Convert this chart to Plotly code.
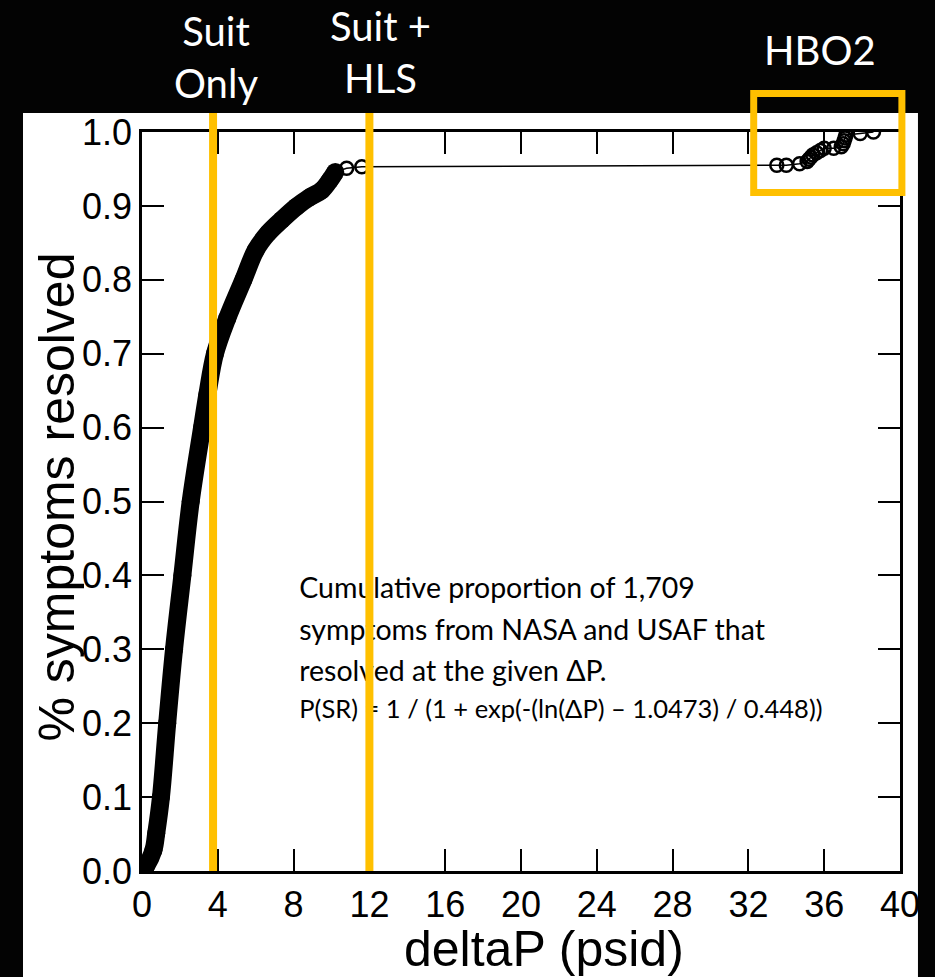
import plotly.graph_objects as go

# ---- data ----
# dense part of the cumulative curve (1,709 overlapping points -> drawn as a thick band)
dp_dense = [0.0, 0.2, 0.6, 0.75, 1.0, 1.33, 1.69, 2.13, 2.57, 3.17, 3.45, 3.85, 4.5,
            5.35, 6.0, 6.65, 7.37, 8.16, 8.87, 9.48, 9.92, 10.2]
p_dense = [0.0, 0.006, 0.028, 0.051, 0.10, 0.20, 0.30, 0.40, 0.50, 0.60, 0.645, 0.70,
           0.748, 0.80, 0.840, 0.863, 0.881, 0.899, 0.912, 0.921, 0.935, 0.946]

# sparse points (open circles joined by a thin line)
dp_tail = [10.2, 10.8, 11.6, 33.5, 34.0, 34.7, 35.1, 35.2, 35.3, 35.4, 35.6,
           35.8, 36.0, 36.5, 36.9, 37.0, 37.05, 37.1, 37.15, 37.9, 38.6]
p_tail = [0.946, 0.951, 0.953, 0.955, 0.955, 0.957, 0.960, 0.963, 0.966, 0.969,
          0.972, 0.975, 0.978, 0.978, 0.980, 0.984, 0.988, 0.992, 0.996, 0.998, 1.0]

# reference pressures (vertical lines) and HBO2 box
suit_only = 3.75
suit_hls = 12.0
hbo2_box_x = [32.28, 40.1]
hbo2_box_y = [0.918, 1.052]

x_ticks = [0, 4, 8, 12, 16, 20, 24, 28, 32, 36, 40]
y_ticks = [0.0, 0.1, 0.2, 0.3, 0.4, 0.5, 0.6, 0.7, 0.8, 0.9, 1.0]
X_MAX = 40.0

note_lines = ["Cumulative proportion of 1,709",
              "symptoms from NASA and USAF that",
              "resolved at the given \u0394P.",
              "P(SR) = 1 / (1 + exp(-(ln(\u0394P) \u2013 1.0473) / 0.448))"]
note_x = [8.3, 8.3, 8.3, 8.3]
note_y = [0.379, 0.3225, 0.267, 0.2156]
note_size = [28.5, 28.5, 28.5, 25.5]

GOLD = "#FFC000"
AX_FONT = "Liberation Sans, Arial, sans-serif"
TXT_FONT = "Lato, Open Sans, sans-serif"

fig = go.Figure()

# thin connecting line + open circles
fig.add_trace(go.Scatter(
    x=dp_tail, y=p_tail, mode="lines+markers",
    line=dict(color="black", width=1.5),
    marker=dict(symbol="circle-open", size=13, color="black", line=dict(width=2.5)),
    hoverinfo="skip", showlegend=False))

# dense band
fig.add_trace(go.Scatter(
    x=dp_dense, y=p_dense, mode="lines+markers",
    line=dict(color="black", width=18, shape="spline", smoothing=1.0),
    marker=dict(symbol="circle", size=18, color="black"),
    hoverinfo="skip", showlegend=False))

# explanatory text (as a text trace so the gold lines can sit on top of it)
fig.add_trace(go.Scatter(
    x=note_x, y=note_y, mode="text", text=note_lines,
    textposition="middle right",
    textfont=dict(family=TXT_FONT, size=note_size, color="black"),
    hoverinfo="skip", showlegend=False))

shapes = []
# white panel behind the chart
shapes.append(dict(type="rect", xref="paper", yref="paper",
                   x0=-0.157, x1=1.0237, y0=-0.1434, y1=1.0257,
                   fillcolor="white", line=dict(width=0), layer="below"))
# gold vertical lines
for v in (suit_only, suit_hls):
    shapes.append(dict(type="line", xref="paper", yref="paper",
                       x0=v / X_MAX, x1=v / X_MAX, y0=0, y1=1.0257,
                       line=dict(color=GOLD, width=8), layer="above"))
# HBO2 box
shapes.append(dict(type="rect", xref="paper", yref="paper",
                   x0=hbo2_box_x[0] / X_MAX, x1=hbo2_box_x[1] / X_MAX,
                   y0=hbo2_box_y[0], y1=hbo2_box_y[1],
                   line=dict(color=GOLD, width=7), fillcolor="rgba(0,0,0,0)",
                   layer="above"))

annotations = [
    dict(text="Suit<br>Only", x=0.0976, y=1.1015, xref="paper", yref="paper",
         showarrow=False, xanchor="center", yanchor="middle",
         font=dict(family=TXT_FONT, size=40, color="white")),
    dict(text="Suit +<br>HLS", x=0.3153, y=1.1085, xref="paper", yref="paper",
         showarrow=False, xanchor="center", yanchor="middle",
         font=dict(family=TXT_FONT, size=40, color="white")),
    dict(text="HBO2", x=0.8945, y=1.111, xref="paper", yref="paper",
         showarrow=False, xanchor="center", yanchor="middle",
         font=dict(family=TXT_FONT, size=40, color="white")),
    dict(text="deltaP (psid)", x=0.530, y=-0.1062, xref="paper", yref="paper",
         showarrow=False, xanchor="center", yanchor="middle",
         font=dict(family=AX_FONT, size=50, color="black")),
    dict(text="% symptoms resolved", x=-0.1115, y=0.506, xref="paper", yref="paper",
         showarrow=False, xanchor="center", yanchor="middle", textangle=-90,
         font=dict(family=AX_FONT, size=50, color="black")),
]

axis_common = dict(showgrid=False, zeroline=False, showline=True, linecolor="black",
                   linewidth=2.5, mirror="ticks", ticks="inside", ticklen=22,
                   tickwidth=2, tickcolor="black",
                   tickfont=dict(family=AX_FONT, size=36, color="black"))

fig.update_layout(
    width=935, height=977,
    margin=dict(l=142, r=35, t=132, b=106, autoexpand=False),
    paper_bgcolor="#030303", plot_bgcolor="white",
    xaxis=dict(range=[0, X_MAX], tickvals=x_ticks, ticktext=[str(v) for v in x_ticks],
               **axis_common),
    yaxis=dict(range=[0, 1], tickvals=y_ticks, ticktext=[f"{v:.1f}" for v in y_ticks],
               **axis_common),
    shapes=shapes, annotations=annotations, showlegend=False,
)

fig.write_html("out.html")
